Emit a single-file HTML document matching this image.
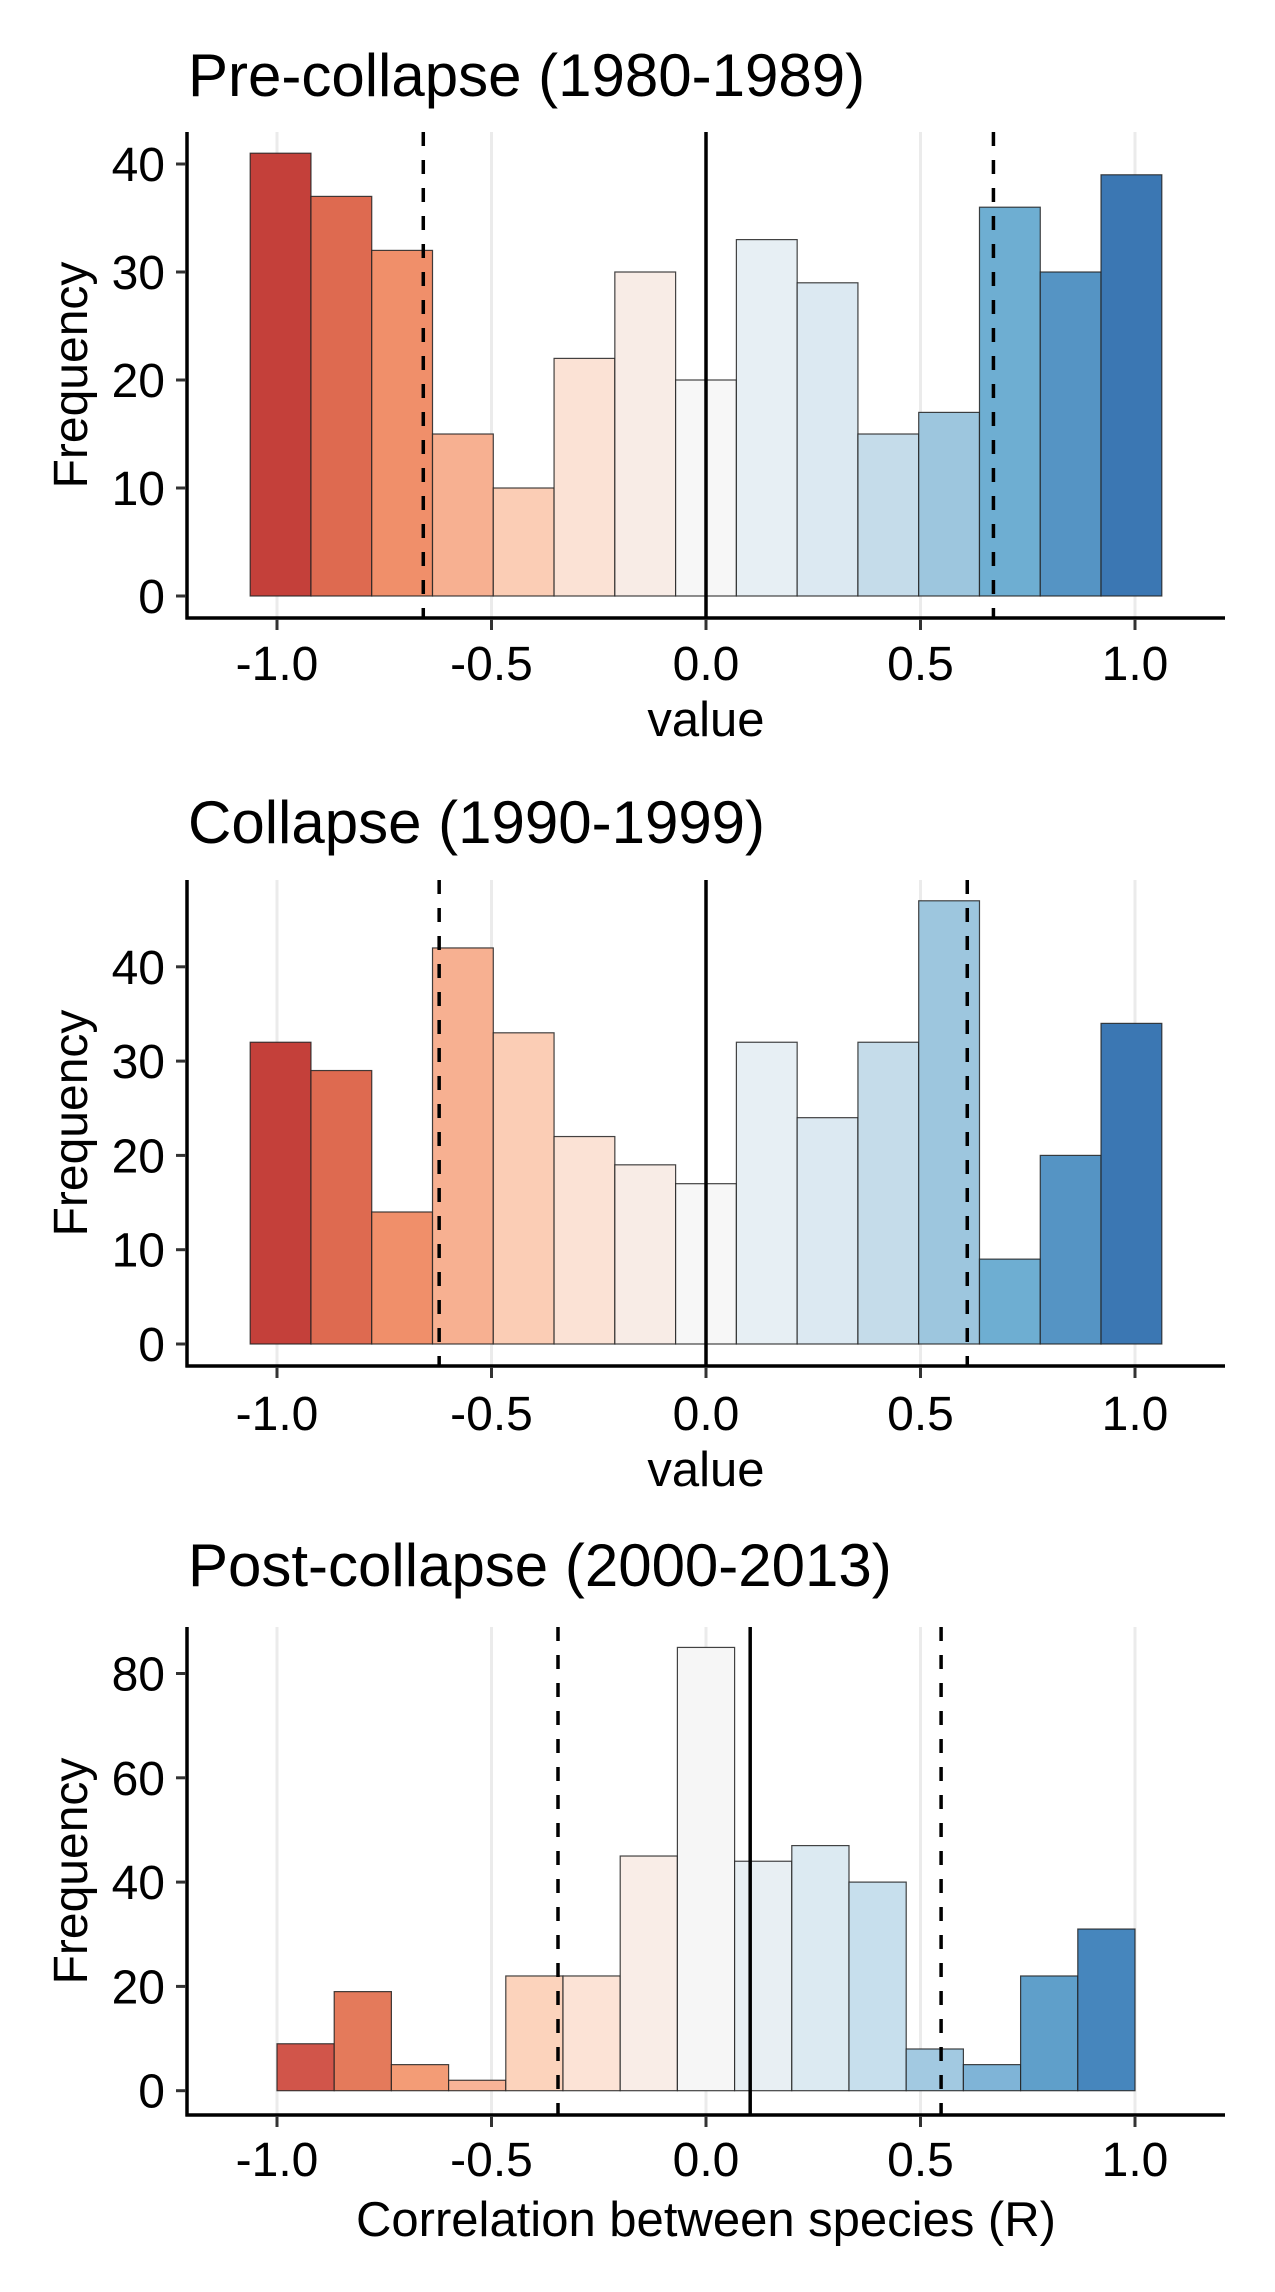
<!DOCTYPE html>
<html><head><meta charset="utf-8"><style>
html,body{margin:0;padding:0;background:#fff}
svg{display:block}
text{font-family:"Liberation Sans",sans-serif;fill:#000}
</style></head><body>
<svg id="chart" width="1275" height="2292" viewBox="0 0 1275 2292" xmlns="http://www.w3.org/2000/svg"></svg>
<script>
const titles = ["Pre-collapse (1980-1989)", "Collapse (1990-1999)", "Post-collapse (2000-2013)"];
const xTitles = ["value", "value", "Correlation between species (R)"];
const counts1 = [41,37,32,15,10,22,30,20,33,29,15,17,36,30,39];
const counts2 = [32,29,14,42,33,22,19,17,32,24,32,47,9,20,34];
const counts3 = [9,19,5,2,22,22,45,85,44,47,40,8,5,22,31];
const binStart = [-1.0625, -1.0625, -1.0];
const binEnd = [1.0625, 1.0625, 1.0];
const dashed1 = [-0.659, 0.67];
const dashed2 = [-0.622, 0.609];
const dashed3 = [-0.345, 0.548];
const solidLines = [0, 0, 0.103];
const yTicks1 = [0,10,20,30,40];
const yTicks2 = [0,10,20,30,40];
const yTicks3 = [0,20,40,60,80];
const xTicks = [-1.0,-0.5,0.0,0.5,1.0];
const xTickLabels = ["-1.0","-0.5","0.0","0.5","1.0"];
const colors12 = ["#c4403a","#de6a50","#f08f6a","#f7b091","#fbcdb5","#fbe2d5","#f8ece6","#f7f7f7","#e7eff4","#dce9f2","#c5dcea","#9dc6de","#6eaed2","#5594c4","#3b77b3"];
const colors3 = ["#d1554a","#e47a5b","#f39c76","#f8b497","#fcd3bc","#fce3d6","#f9ede7","#f6f6f6","#e8eff3","#dceaf2","#c7dfed","#a2c9e1","#7fb4d7","#5f9fca","#4686bd"];

const NS = "http://www.w3.org/2000/svg";
const svg = document.getElementById("chart");
function mk(tag, attrs, parent){
  const e = document.createElementNS(NS, tag);
  for (const k in attrs) e.setAttribute(k, attrs[k]);
  (parent||svg).appendChild(e);
  return e;
}
const panels = [
  {counts:counts1, dashed:dashed1, yTicks:yTicks1, colors:colors12, y0:596, yUnit:10.8, top:132, axisY:618, titleY:96, tickY:680, xtY:736},
  {counts:counts2, dashed:dashed2, yTicks:yTicks2, colors:colors12, y0:1344, yUnit:9.43, top:880, axisY:1366, titleY:843, tickY:1430, xtY:1486},
  {counts:counts3, dashed:dashed3, yTicks:yTicks3, colors:colors3, y0:2090.7, yUnit:5.215, top:1627, axisY:2115, titleY:1586, tickY:2176, xtY:2236}
];
function xs(v){ return 706 + v*429; }
panels.forEach((p, i) => {
  const g = mk("g", {});
  
  
  const ys = v => p.y0 - v*p.yUnit;
  xTicks.forEach(t => {
    const gl = mk("line", {x1:xs(t), x2:xs(t), y1:p.top, y2:p.axisY, stroke:"#ebebeb", "stroke-width":3}, g);
    
    
  });
  const n = p.counts.length;
  const w = (binEnd[i]-binStart[i])/n;
  p.counts.forEach((c, k) => {
    const x0 = xs(binStart[i]+k*w), x1 = xs(binStart[i]+(k+1)*w);
    const r = mk("rect", {x:x0, y:ys(c), width:x1-x0, height:ys(0)-ys(c), fill:p.colors[k], stroke:"#222", "stroke-width":1.2, "stroke-opacity":0.85}, g);
    
    
  });
  p.dashed.forEach(d => {
    const l = mk("line", {x1:xs(d), x2:xs(d), y1:p.top, y2:p.axisY, stroke:"#000", "stroke-width":3.5, "stroke-dasharray":"14 14"}, g);
    
    
  });
  const sl = mk("line", {x1:xs(solidLines[i]), x2:xs(solidLines[i]), y1:p.top, y2:p.axisY, stroke:"#000", "stroke-width":3.5}, g);
  
  
  const ya = mk("line", {x1:187, x2:187, y1:p.top, y2:p.axisY+1.5, stroke:"#000", "stroke-width":3.5}, g);
  
  
  const xa = mk("line", {x1:185.5, x2:1225, y1:p.axisY, y2:p.axisY, stroke:"#000", "stroke-width":3.5}, g);
  
  
  p.yTicks.forEach(t => {
    mk("line", {x1:176, x2:186, y1:ys(t), y2:ys(t), stroke:"#333", "stroke-width":3}, g);
    const tl = mk("text", {x:165, y:ys(t)+17, "font-size":48, "text-anchor":"end"}, g);
    tl.textContent = t;
    
    
  });
  xTicks.forEach((t, k) => {
    mk("line", {x1:xs(t), x2:xs(t), y1:p.axisY+1, y2:p.axisY+12, stroke:"#333", "stroke-width":3}, g);
    const tl = mk("text", {x:xs(t), y:p.tickY, "font-size":48, "text-anchor":"middle"}, g);
    tl.textContent = xTickLabels[k];
    
    
  });
  const xt = mk("text", {x:706, y:p.xtY, "font-size":49, "text-anchor":"middle"}, g);
  xt.textContent = xTitles[i];
  
  
  const cy = (p.top+p.axisY)/2;
  const yt = mk("text", {x:0, y:0, "font-size":48, "text-anchor":"middle", transform:"translate(87," + cy + ") rotate(-90)"}, g);
  yt.textContent = "Frequency";
  
  
  const tt = mk("text", {x:188, y:p.titleY, "font-size":60}, g);
  tt.textContent = titles[i];
  
  
});
</script>
</body></html>
